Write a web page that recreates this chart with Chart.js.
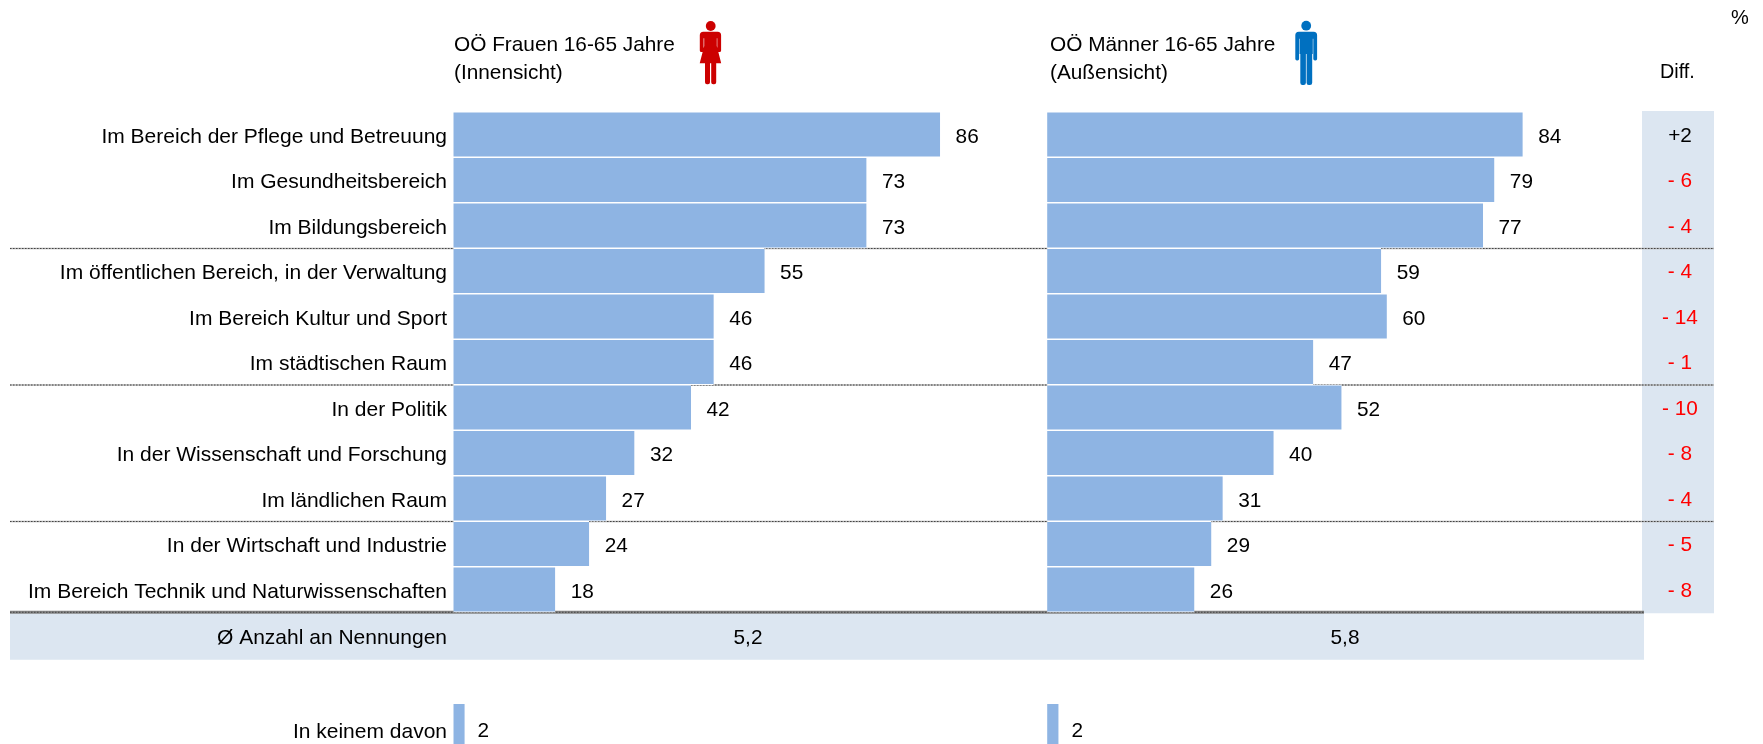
<!DOCTYPE html>
<html lang="de">
<head>
<meta charset="utf-8">
<title>Frauen in Bereichen</title>
<style>
html,body{margin:0;padding:0;background:#fff;overflow:hidden;width:1763px;height:744px}
canvas{display:block}
</style>
<script src="https://cdn.jsdelivr.net/npm/chart.js@4"></script>
</head>
<body>
<canvas id="chart" width="1763" height="760"></canvas>
<script>
const categories = [
  "Im Bereich der Pflege und Betreuung",
  "Im Gesundheitsbereich",
  "Im Bildungsbereich",
  "Im öffentlichen Bereich, in der Verwaltung",
  "Im Bereich Kultur und Sport",
  "Im städtischen Raum",
  "In der Politik",
  "In der Wissenschaft und Forschung",
  "Im ländlichen Raum",
  "In der Wirtschaft und Industrie",
  "Im Bereich Technik und Naturwissenschaften",
  "Ø Anzahl an Nennungen",
  "",
  "In keinem davon"
];
const frauen = [86, 73, 73, 55, 46, 46, 42, 32, 27, 24, 18, null, null, 2];
const maenner = [84, 79, 77, 59, 60, 47, 52, 40, 31, 29, 26, null, null, 2];
const diffLabels = ["+2", "- 6", "- 4", "- 4", "- 14", "- 1", "- 10", "- 8", "- 4", "- 5", "- 8"];
const avgFrauen = "5,2";
const avgMaenner = "5,8";
const groupEnds = [2, 5, 8];

const FAMILY = '"Liberation Sans", Arial, sans-serif';
const BAR = '#8eb4e3';
const BAND = '#dce6f1';
const TEXT = '#000000';
const PX_PER_UNIT = 5.66;
const AREA_LEFT = 453.3, AREA_RIGHT = 1763;
const MALE_ZERO = 1047.2;

// Both bar groups share one plot area; each has its own x scale with its own zero.
const spanUnits = (AREA_RIGHT - AREA_LEFT) / PX_PER_UNIT;
const maleOffset = (MALE_ZERO - AREA_LEFT) / PX_PER_UNIT;

function text(ctx, str, x, y, align, color, size) {
  ctx.font = (size || 20.8) + 'px ' + FAMILY;
  ctx.fillStyle = color || TEXT;
  ctx.textAlign = align || 'left';
  ctx.textBaseline = 'middle';
  ctx.fillText(str, x, y);
}

function dottedRule(ctx, x0, x1, y, width, under) {
  ctx.save();
  ctx.beginPath();
  ctx.moveTo(x0, y);
  ctx.lineTo(x1, y);
  ctx.strokeStyle = under;
  ctx.lineWidth = width;
  ctx.stroke();
  ctx.strokeStyle = '#444444';
  ctx.lineWidth = 1;
  ctx.setLineDash([1.5, 1.5]);
  ctx.stroke();
  ctx.restore();
}

function womanIcon(ctx) {
  ctx.save();
  ctx.fillStyle = '#cc0000';
  ctx.beginPath(); ctx.arc(710.7, 26, 4.9, 0, Math.PI * 2); ctx.fill();
  ctx.beginPath();
  ctx.roundRect(699.8, 31.7, 21.3, 6.5, [3.5, 3.5, 0, 0]);
  ctx.roundRect(699.8, 36, 3.8, 16, [0, 0, 1.6, 1.6]);
  ctx.roundRect(717.3, 36, 3.8, 16, [0, 0, 1.6, 1.6]);
  ctx.rect(704.2, 36, 12.6, 13);
  ctx.moveTo(704.2, 46);
  ctx.lineTo(716.8, 46);
  ctx.lineTo(721.2, 63.3);
  ctx.lineTo(699.7, 63.3);
  ctx.closePath();
  ctx.roundRect(705, 62, 5, 22.2, [0, 0, 2, 2]);
  ctx.roundRect(711.2, 62, 5, 22.2, [0, 0, 2, 2]);
  ctx.fill();
  ctx.restore();
}

function manIcon(ctx) {
  ctx.save();
  ctx.fillStyle = '#0070c0';
  ctx.beginPath(); ctx.arc(1306.2, 25.7, 4.9, 0, Math.PI * 2); ctx.fill();
  ctx.beginPath();
  ctx.roundRect(1295.3, 31.7, 21.8, 7, [3.5, 3.5, 0, 0]);
  ctx.roundRect(1295.3, 36, 3.8, 24.4, [0, 0, 1.6, 1.6]);
  ctx.roundRect(1313.3, 36, 3.8, 24.4, [0, 0, 1.6, 1.6]);
  ctx.rect(1299.6, 36, 13.2, 18);
  ctx.roundRect(1300.3, 52, 5.6, 33, [0, 0, 2.2, 2.2]);
  ctx.roundRect(1306.6, 52, 5.6, 33, [0, 0, 2.2, 2.2]);
  ctx.fill();
  ctx.restore();
}

// Bands and rules go under the bars.
const backdrop = {
  id: 'backdrop',
  beforeDatasetsDraw(chart) {
    const { ctx, scales: { y } } = chart;
    const step = y.getPixelForValue(1) - y.getPixelForValue(0);
    const edge = i => y.getPixelForValue(i) + step / 2;
    ctx.save();
    ctx.fillStyle = BAND;
    ctx.fillRect(1642, 111, 72, edge(10) + 1 - 111);
    ctx.fillRect(10, edge(10), 1634, edge(11) + 2 - edge(10));
    ctx.restore();
    groupEnds.forEach(i => dottedRule(ctx, 10, 1714, edge(i) + 0.25, 1.6, '#b0b0b0'));
    dottedRule(ctx, 10, 1644, edge(10), 3, '#858585');
  }
};

// Value labels, the Diff column, headings and icons go on top.
const annotations = {
  id: 'annotations',
  afterDatasetsDraw(chart) {
    const { ctx, scales: { y, x, x2 } } = chart;
    const valueLabel = (v, i, scale) => {
      if (v === null) return;
      const last = i === 13;
      text(ctx, String(v), scale.getPixelForValue(v) + (last ? 13 : 15.5), y.getPixelForValue(i) + (last ? 5.5 : 2.5));
    };
    frauen.forEach((v, i) => valueLabel(v, i, x));
    maenner.forEach((v, i) => valueLabel(v, i, x2));
    diffLabels.forEach((d, i) => {
      text(ctx, d, 1680, y.getPixelForValue(i) + 1.5, 'center', d.startsWith('-') ? '#ff0000' : TEXT);
    });
    text(ctx, avgFrauen, 748, y.getPixelForValue(11) + 3, 'center');
    text(ctx, avgMaenner, 1345, y.getPixelForValue(11) + 3, 'center');

    categories.forEach((c, i) => {
      const nudge = i === 13 ? 6 : i === 11 ? 3.5 : 2.5;
      text(ctx, c, 447, y.getPixelForValue(i) + nudge, 'right', TEXT, 21);
    });

    text(ctx, 'OÖ Frauen 16-65 Jahre', 454, 45);
    text(ctx, '(Innensicht)', 454, 73);
    text(ctx, 'OÖ Männer 16-65 Jahre', 1050, 45);
    text(ctx, '(Außensicht)', 1050, 73);
    text(ctx, 'Diff.', 1660, 73, 'left', TEXT, 19.8);
    text(ctx, '%', 1731, 18, 'left', TEXT, 20);
    womanIcon(ctx);
    manIcon(ctx);
  }
};

const barStyle = {
  backgroundColor: BAR,
  borderColor: '#ffffff',
  borderWidth: { top: 1, bottom: 1, left: 0, right: 0 },
  borderSkipped: false,
  barPercentage: 1,
  categoryPercentage: 1,
  grouped: false
};

new Chart(document.getElementById('chart'), {
  type: 'bar',
  data: {
    labels: categories,
    datasets: [
      { label: 'OÖ Frauen 16-65 Jahre (Innensicht)', data: frauen, xAxisID: 'x', ...barStyle },
      { label: 'OÖ Männer 16-65 Jahre (Außensicht)', data: maenner, xAxisID: 'x2', ...barStyle }
    ]
  },
  options: {
    indexAxis: 'y',
    responsive: false,
    animation: false,
    layout: { padding: { left: AREA_LEFT, right: 0, top: 111.75, bottom: 760 - 748.75 } },
    plugins: { legend: { display: false }, tooltip: { enabled: false }, title: { display: false } },
    scales: {
      y: { display: false, offset: true, grid: { display: false } },
      x: { display: false, min: 0, max: spanUnits, grid: { display: false } },
      x2: { display: false, axis: 'x', min: -maleOffset, max: spanUnits - maleOffset, grid: { display: false } }
    }
  },
  plugins: [backdrop, annotations]
});
</script>
</body>
</html>
